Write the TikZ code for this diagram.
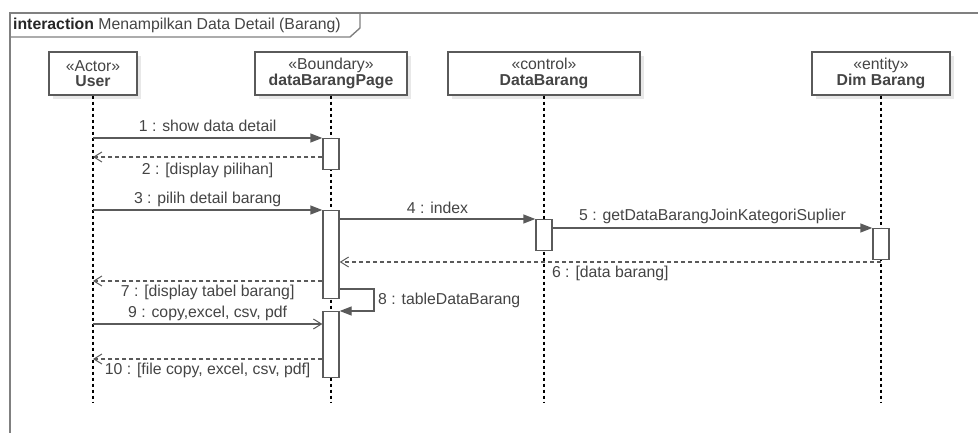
\documentclass[tikz,border=0pt]{standalone}
\usepackage{fontspec}
\setmainfont{Liberation Sans}
\usetikzlibrary{arrows.meta,shadows}
\definecolor{ink}{HTML}{444444}
\definecolor{edge}{HTML}{5A5A5A}
\definecolor{framec}{HTML}{808080}
\tikzset{
  head/.style={draw=edge, line width=1.4pt, fill=white, minimum height=43pt,
    inner sep=0pt, align=center, text=ink, font=\fontsize{15.8}{15.5}\selectfont,
    drop shadow={shadow xshift=4pt, shadow yshift=-4pt, fill=black!9, opacity=1}},
  lifeline/.style={draw=black, line width=1.3pt, dash pattern=on 3pt off 3pt},
  actbox/.style={draw=edge, line width=1.4pt, fill=white, minimum width=16pt,
    inner sep=0pt, anchor=north},
  callmsg/.style={draw=edge, line width=1.4pt, -{Triangle[length=12pt,width=9pt]}},
  retmsg/.style={draw=edge, line width=1.2pt, dash pattern=on 4pt off 3pt,
    -{Straight Barb[length=8pt,width=10pt,line width=1pt]}},
  asyncmsg/.style={draw=edge, line width=1.4pt,
    -{Straight Barb[length=8pt,width=10pt,line width=1pt]}},
  msglabel/.style={text=ink, inner sep=0pt, font=\fontsize{15.8}{15.5}\selectfont},
}
\begin{document}
\begin{tikzpicture}[x=1pt,y=-1pt]
  \useasboundingbox (0,0) rectangle (978,433);
  \clip (0,0) rectangle (978,433);

  % interaction frame and its title tab
  \draw[framec, line width=1.6pt] (10,13) rectangle (1000,460);
  \draw[framec, line width=1.4pt] (10,37) -- (350,37) -- (360,28) -- (360,13);
  \node[anchor=west, inner sep=0pt, text=ink, font=\fontsize{15.8}{15.5}\selectfont]
    (title) at (13,25) {\textcolor{black!85}{\textbf{interaction}} Menampilkan Data Detail (Barang)};

  % lifeline heads
  \node[head, minimum width=88pt]  (user) at (93,73.5)  {«Actor»\\\textbf{User}};
  \node[head, minimum width=152pt] (page) at (331,73.5) {«Boundary»\\\textbf{dataBarangPage}};
  \node[head, minimum width=192pt] (ctrl) at (544,73.5) {«control»\\\textbf{DataBarang}};
  \node[head, minimum width=138pt] (dim)  at (881,73.5) {«entity»\\\textbf{Dim Barang}};

  % lifeline ends
  \coordinate (userEnd) at (93,403);
  \coordinate (pageEnd) at (331,403);
  \coordinate (ctrlEnd) at (544,403);
  \coordinate (dimEnd)  at (881,403);
  \draw[lifeline] (user.south) -- (userEnd);
  \draw[lifeline] (page.south) -- (pageEnd);
  \draw[lifeline] (ctrl.south) -- (ctrlEnd);
  \draw[lifeline] (dim.south)  -- (dimEnd);

  % activation bars
  \node[actbox, minimum height=31pt] (a1) at (331,138) {};
  \node[actbox, minimum height=88pt] (a2) at (331,210) {};
  \node[actbox, minimum height=66pt] (a3) at (331,311) {};
  \node[actbox, minimum height=31pt] (a4) at (544,219) {};
  \node[actbox, minimum height=31pt] (a5) at (881,228) {};

  % message heights
  \coordinate (m2) at (0,157);
  \coordinate (m6) at (0,262);
  \coordinate (m7) at (0,281);
  \coordinate (m8) at (0,289);
  \coordinate (m9) at (0,324);
  \coordinate (m10) at (0,359);
  \coordinate (selfTurn) at (374,0);

  % messages
  \draw[callmsg] (user.south |- a1.north) -- (a1.north west)
    node[msglabel, midway, yshift=12pt] {1 : show data detail};
  \draw[retmsg] (a1.west |- m2) -- (user.south |- m2)
    node[msglabel, midway, yshift=-13pt] {2 : [display pilihan]};
  \draw[callmsg] (user.south |- a2.north) -- (a2.north west)
    node[msglabel, midway, yshift=11pt] {3 : pilih detail barang};
  \draw[callmsg] (a2.east |- a4.north) -- (a4.north west)
    node[msglabel, midway, yshift=11pt] {4 : index};
  \draw[callmsg] (a4.east |- a5.north) -- (a5.north west)
    node[msglabel, midway, yshift=12pt] {5 : getDataBarangJoinKategoriSuplier};
  \draw[retmsg] (dim.south |- m6) -- (a2.east |- m6)
    node[msglabel, midway, yshift=-11pt] {6 : [data barang]};
  \draw[retmsg] (a2.west |- m7) -- (user.south |- m7)
    node[msglabel, midway, yshift=-11pt] {7 : [display tabel barang]};
  \draw[callmsg] (a2.east |- m8) -- (selfTurn |- m8) -- (selfTurn |- a3.north) -- (a3.north east);
  \node[msglabel, anchor=west] (l8) at (378,300) {8 : tableDataBarang};
  \draw[asyncmsg] (user.south |- m9) -- (a3.west |- m9)
    node[msglabel, midway, yshift=11pt] {9 : copy,excel, csv, pdf};
  \draw[retmsg] (a3.west |- m10) -- (user.south |- m10)
    node[msglabel, midway, yshift=-11pt] {10 : [file copy, excel, csv, pdf]};
\end{tikzpicture}
\end{document}
